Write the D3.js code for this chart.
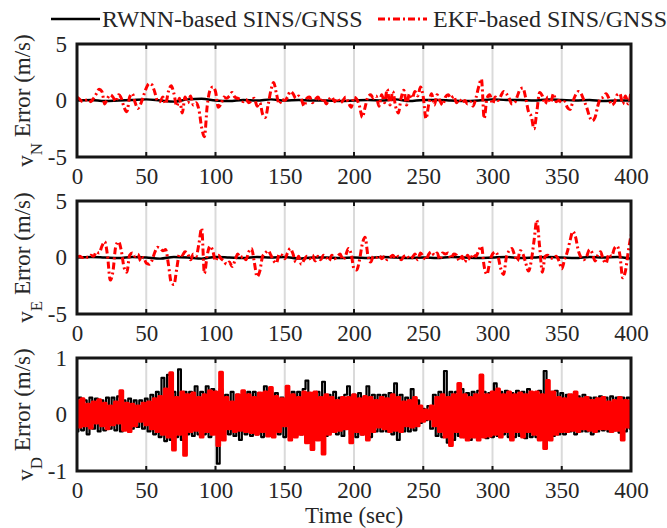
<!DOCTYPE html>
<html>
<head>
<meta charset="utf-8">
<script src="https://cdn.jsdelivr.net/npm/d3@7"></script>
<style>
  html, body { margin: 0; padding: 0; background: #fff; }
  svg { display: block; }
</style>
</head>
<body>
<svg id="chart" width="667" height="528"></svg>
<script>
"use strict";

var xTicks = [0, 50, 100, 150, 200, 250, 300, 350, 400];
var xTickLabels = ["0", "50", "100", "150", "200", "250", "300", "350", "400"];
var yTicksVel = [-5, 0, 5];
var yTickLabelsVel = ["-5", "0", "5"];
var yTicksDown = [-1, 0, 1];
var yTickLabelsDown = ["-1", "0", "1"];
var seriesNames = ["RWNN-based SINS/GNSS", "EKF-based SINS/GNSS"];
var xTitle = "Time (sec)";

// north velocity error, samples spread evenly over 0..400 s
var vnRwnn = [0.0, 0.05, -0.05, 0.0, 0.05, 0.1, 0.0, -0.1, 0.1, 0.15,
  0.0, -0.05, 0.05, 0.0, 0.1, 0.0, 0.05, 0.0, 0.0, -0.05,
  0.0, 0.05, 0.0, 0.1, -0.05, 0.05, 0.05, 0.0, -0.05, 0.0,
  0.1, 0.05, 0.05, 0.0, 0.1, 0.05, 0.0, 0.05, -0.05, 0.0, 0.0];
var vnEkf = [0.3, 0.1, -0.1, 0.0, 0.1, -0.1, 0.2, 0.6, 1.0, 0.8,
  -0.3, 0.2, 0.5, 0.3, -0.1, 0.5, 0.2, -0.6, -1.0, 0.3,
  0.6, -0.2, -0.7, -0.3, 0.4, 1.1, 1.5, 1.4, 0.8, 0.0,
  -0.1, 0.3, -0.3, 0.8, 1.3, 0.6, -0.5, 0.2, -1.1, 0.3,
  -0.2, 0.4, -0.4, -0.2, -0.8, -2.4, -3.2, -0.5, 0.9, 1.2,
  0.8, -0.6, -0.3, 0.3, 0.2, 0.4, 0.7, 0.3, 0.2, 0.1,
  -0.1, 0.1, -0.2, 0.0, 0.2, -0.5, -0.2, -1.2, -1.5, -0.4,
  0.9, 1.6, 0.6, -0.3, 0.1, 0.0, 0.3, 0.8, 0.6, 0.2,
  0.4, 0.1, -0.5, 0.2, 0.3, -0.2, 0.1, 0.3, -0.1, 0.2,
  -0.3, 0.1, 0.3, -0.1, 0.2, -0.2, 0.0, 0.3, -0.2, -0.6,
  0.3, 0.1, -0.5, -1.5, -0.6, 0.3, 0.5, 0.2, 0.4, -0.5,
  0.5, -0.2, 1.0, -0.4, 0.8, -0.5, -1.1, 0.2, 0.9, -0.4,
  0.6, 0.2, 0.8, 0.4, 1.2, 0.3, -1.6, -0.3, 0.6, -0.4,
  0.5, 0.0, -0.4, 0.3, 0.5, 0.2, 0.4, -0.2, 0.1, -0.2,
  0.0, -0.3, -0.1, -0.5, 0.2, 1.2, 1.9, -1.6, 0.2, 0.5,
  -0.3, 0.3, 0.0, 0.4, 0.8, 0.6, 0.2, -0.3, -0.2, 0.4,
  1.0, 1.1, 0.2, -1.0, -1.4, -2.5, -1.0, 0.7, 0.4, -0.3,
  0.3, -0.2, 0.6, -0.1, 0.0, -0.2, -0.1, -0.6, -0.8, -0.1,
  0.5, 0.8, 0.6, 0.0, -0.6, -1.4, -1.8, -1.5, -0.5, 0.2,
  0.3, 0.6, 0.2, -0.4, -0.2, 0.5, 0.6, -0.3, 0.4, -0.3,
  0.8];

// east velocity error
var veRwnn = [0.0, 0.05, 0.0, -0.05, 0.05, 0.0, -0.1, 0.05, 0.0, -0.1,
  0.05, 0.0, -0.05, 0.05, 0.0, 0.05, -0.1, 0.0, 0.0, -0.05,
  0.0, -0.05, 0.05, 0.0, -0.05, 0.0, -0.05, 0.05, 0.0, -0.05,
  0.0, 0.05, -0.05, 0.0, 0.05, 0.0, -0.05, 0.05, 0.0, 0.05, -0.1];
var veEkf = [0.0, 0.1, 0.0, 0.1, 0.0, 0.2, 0.1, 0.5, 0.4, 1.0,
  1.4, 0.2, -2.0, -1.2, 1.0, 1.4, 0.6, -0.9, -1.3, 0.2,
  0.4, 0.1, 0.3, -0.3, 0.0, -0.5, -0.6, -0.3, 0.4, 0.9,
  0.8, 0.6, 0.7, -0.6, -2.2, -2.4, -1.0, 0.3, 0.2, 0.5,
  0.3, -0.2, 0.3, 0.1, 1.2, 2.6, -1.4, 0.2, 1.0, 0.6,
  -0.3, 0.2, -0.1, -0.3, -0.6, -0.4, -0.8, -0.3, 0.3, 0.0,
  0.1, -0.2, 0.5, 0.8, -0.4, -1.7, -1.2, 0.1, 0.4, 0.6,
  0.2, -0.3, -0.5, 0.3, 0.2, -0.1, 0.4, 0.8, 0.3, -0.4,
  0.1, -0.6, -0.2, 0.1, -0.1, 0.2, -0.3, 0.1, -0.2, 0.2,
  0.0, -0.3, 0.2, -0.1, 0.1, 0.3, -0.2, 0.2, 0.8, 0.3,
  -1.0, -1.1, -0.2, 1.2, 1.8, 0.2, -0.4, 0.1, 0.0, 0.2,
  -0.1, 0.1, -0.2, 0.0, 0.2, -0.1, 0.1, -0.2, 0.1, 0.2,
  -0.1, 0.0, 0.3, -0.2, 0.4, 0.1, -0.2, 0.3, 0.5, 0.2,
  0.4, -0.2, 0.4, 0.3, 0.4, -0.1, 0.3, 0.2, -0.3, 0.1,
  -0.4, 0.2, -0.2, 0.3, 0.1, 0.6, 1.0, -0.8, -1.5, -0.4,
  0.3, 0.5, 0.1, -1.0, -1.5, 0.0, 0.6, 0.8, 0.2, -0.3,
  0.6, 0.3, -0.5, -1.2, -0.3, 1.5, 3.3, 1.0, -1.3, 0.1,
  0.2, 0.0, -0.1, 0.1, -0.3, -1.0, -0.2, 0.5, 1.5, 2.3,
  1.8, 0.6, 0.0, -0.2, 0.1, 0.7, 0.4, -0.3, 0.2, 0.5,
  -0.2, -0.5, 0.3, 0.1, 0.8, 1.0, 0.2, -1.8, -1.2, 0.5,
  2.0];

// down velocity error
var vdRwnn = [-0.3, 0.3, -0.28, 0.25, -0.35, 0.3, -0.25, 0.28, -0.3, 0.25,
  -0.28, 0.3, -0.25, 0.3, -0.28, 0.32, -0.3, 0.25, -0.25, 0.28,
  -0.25, 0.25, -0.22, 0.25, -0.25, 0.28, -0.3, 0.35, -0.35, 0.4,
  -0.4, 0.65, -0.47, 0.7, -0.45, 0.4, -0.4, 0.8, -0.45, 0.4,
  -0.35, 0.4, -0.38, 0.5, -0.35, 0.4, -0.35, 0.5, -0.4, 0.45,
  0.4, -0.87, 0.45, -0.35, 0.35, -0.35, 0.4, -0.38, 0.35, -0.45,
  0.35, -0.35, 0.4, -0.38, 0.4, -0.35, 0.38, -0.4, 0.5, -0.38,
  0.4, -0.35, 0.38, -0.35, 0.3, -0.4, 0.38, -0.4, 0.4, -0.38,
  0.4, -0.35, 0.45, 0.6, -0.4, 0.38, -0.4, 0.4, -0.35, 0.58,
  -0.38, 0.35, -0.3, 0.4, -0.35, 0.3, -0.38, 0.35, 0.5, -0.35,
  0.35, -0.4, 0.38, -0.35, 0.3, 0.5, -0.4, 0.35, -0.3, 0.35,
  -0.3, 0.35, -0.3, 0.38, -0.35, 0.55, -0.45, 0.35, -0.3, 0.3,
  -0.3, 0.45, -0.28, 0.25, -0.15, 0.1, -0.1, 0.15, -0.25, 0.35,
  -0.38, 0.4, -0.4, 0.77, -0.5, 0.4, -0.45, 0.4, -0.38, 0.45,
  -0.4, 0.38, -0.45, 0.4, -0.4, 0.42, -0.35, 0.4, -0.42, 0.38,
  -0.4, 0.55, -0.38, 0.4, -0.35, 0.42, -0.4, 0.38, -0.4, 0.42,
  -0.38, 0.4, -0.42, 0.45, -0.4, 0.38, -0.4, 0.42, -0.45, 0.77,
  -0.45, 0.4, -0.38, 0.42, -0.35, 0.38, -0.35, 0.35, -0.3, 0.35,
  -0.35, 0.32, -0.3, 0.35, -0.3, 0.3, -0.35, 0.3, -0.3, 0.32,
  -0.28, 0.3, -0.3, 0.32, -0.28, 0.3, -0.32, 0.3, -0.3, 0.3,
  -0.25];
var vdEkf = [0.25, -0.22, 0.28, -0.2, 0.18, -0.24, 0.22, -0.15, 0.26, -0.2,
  0.2, -0.25, 0.15, -0.18, 0.22, -0.15, 0.42, -0.28, 0.2, -0.3, 0.18,
  -0.2, 0.15, -0.12, 0.2, -0.18, 0.22, -0.25, 0.28, -0.3, 0.32,
  -0.35, 0.45, -0.4, 0.74, -0.63, 0.3, -0.35, 0.4, -0.72, 0.35,
  -0.3, 0.38, -0.28, 0.3, -0.4, 0.35, -0.3, 0.42, -0.35, 0.4,
  -0.55, 0.75, -0.45, 0.3, -0.25, 0.22, -0.3, 0.35, -0.28, 0.42,
  -0.3, 0.35, -0.32, 0.3, -0.35, 0.38, -0.3, 0.4, -0.38, 0.48,
  -0.4, 0.32, -0.3, 0.28, -0.2, 0.5, -0.45, 0.35, -0.4, 0.3,
  -0.35, 0.4, -0.5, 0.38, -0.62, 0.4, -0.45, 0.3, -0.7, 0.35,
  -0.35, 0.3, -0.3, 0.25, -0.28, 0.3, -0.25, 0.3, -0.5, 0.35,
  -0.3, 0.28, -0.35, 0.32, -0.45, 0.3, -0.3, 0.25, -0.22, 0.3,
  -0.25, 0.28, -0.3, 0.35, -0.28, 0.3, -0.3, 0.22, -0.2, 0.25,
  -0.22, 0.3, -0.2, 0.15, -0.12, 0.08, -0.08, 0.15, -0.2, 0.3,
  -0.3, 0.35, -0.4, 0.3, -0.55, 0.35, -0.3, 0.55, -0.4, 0.35,
  -0.45, 0.3, -0.4, 0.35, -0.45, 0.7, -0.4, 0.35, -0.38,
  0.4, -0.35, 0.45, -0.4, 0.35, -0.3, 0.4, -0.45, 0.35, -0.3,
  0.38, -0.4, 0.35, -0.3, 0.4, -0.35, 0.4, -0.45, 0.35, -0.6,
  0.6, -0.45, 0.4, -0.35, 0.3, -0.3, 0.28, -0.3, 0.35, -0.28,
  0.4, -0.3, 0.28, -0.25, 0.3, -0.28, 0.25, -0.3, 0.28, -0.25,
  0.3, -0.25, 0.22, -0.3, 0.25, -0.28, 0.3, -0.45, 0.25, -0.22,
  0.25];

var FONT = "'Liberation Serif', 'Times New Roman', serif";
var svg = d3.select("#chart");
var plotLeft = 77, plotRight = 631, plotH = 113;

var x = d3.scaleLinear().domain([0, 400]).range([plotLeft, plotRight]);

var panels = [
  { top: 44, rwnn: vnRwnn, ekf: vnEkf, ticks: yTicksVel, labels: yTickLabelsVel, sub: "N", smooth: true },
  { top: 201, rwnn: veRwnn, ekf: veEkf, ticks: yTicksVel, labels: yTickLabelsVel, sub: "E", smooth: true },
  { top: 358, rwnn: vdRwnn, ekf: vdEkf, ticks: yTicksDown, labels: yTickLabelsDown, sub: "D", smooth: false }
];

panels.forEach(function(p, k) {
  var y = d3.scaleLinear()
    .domain([p.ticks[0], p.ticks[p.ticks.length - 1]])
    .range([p.top + plotH, p.top]);

  // noisy down channel is drawn stepwise so it reads as a filled band
  var line = d3.line()
    .x(function(d, i, arr) { return x(i * 400 / (arr.length - 1)); })
    .y(function(d) { return y(d); })
    .curve(p.smooth ? d3.curveMonotoneX : d3.curveStep);

  svg.append("clipPath").attr("id", "clip" + k)
    .append("rect")
    .attr("x", plotLeft).attr("y", p.top)
    .attr("width", plotRight - plotLeft).attr("height", plotH);

  var g = svg.append("g");

  // vertical grid
  g.selectAll(".grid")
    .data(xTicks.slice(1, -1))
    .enter().append("line")
    .attr("x1", function(d) { return x(d); })
    .attr("x2", function(d) { return x(d); })
    .attr("y1", p.top).attr("y2", p.top + plotH)
    .attr("stroke", "#dadada")
    .attr("stroke-width", 2);

  var lines = g.append("g").attr("clip-path", "url(#clip" + k + ")");
  lines.append("path")
    .datum(p.rwnn)
    .attr("fill", "none")
    .attr("stroke", "#000")
    .attr("stroke-width", p.smooth ? 2.4 : 2.2)
    .attr("stroke-linejoin", "round")
    .attr("d", line);
  lines.append("path")
    .datum(p.ekf)
    .attr("fill", "none")
    .attr("stroke", "#ff0000")
    .attr("stroke-width", 3)
    .attr("stroke-dasharray", p.smooth ? "7,3,2,3" : null)
    .attr("stroke-linejoin", "round")
    .attr("d", line);

  // box
  g.append("rect")
    .attr("x", plotLeft).attr("y", p.top)
    .attr("width", plotRight - plotLeft).attr("height", plotH)
    .attr("fill", "none")
    .attr("stroke", "#161616")
    .attr("stroke-width", 3);

  // inward tick marks top and bottom
  [p.top, p.top + plotH].forEach(function(yy, j) {
    g.selectAll(".tk" + j)
      .data(xTicks.slice(1, -1))
      .enter().append("line")
      .attr("x1", function(d) { return x(d); })
      .attr("x2", function(d) { return x(d); })
      .attr("y1", yy)
      .attr("y2", j === 0 ? yy + 5 : yy - 5)
      .attr("stroke", "#161616")
      .attr("stroke-width", 2);
  });

  var xAxis = g.append("g")
    .attr("transform", "translate(0," + (p.top + plotH) + ")")
    .call(d3.axisBottom(x).tickValues(xTicks).tickSize(0).tickPadding(11)
      .tickFormat(function(d, i) { return xTickLabels[i]; }));
  xAxis.select(".domain").remove();
  xAxis.selectAll("text")
    .attr("fill", "#262626")
    .style("font-family", FONT)
    .style("font-size", "23px");

  var yAxis = g.append("g")
    .attr("transform", "translate(" + plotLeft + ",0)")
    .call(d3.axisLeft(y).tickValues(p.ticks).tickSize(0).tickPadding(10)
      .tickFormat(function(d, i) { return p.labels[i]; }));
  yAxis.select(".domain").remove();
  yAxis.selectAll("text")
    .attr("fill", "#262626")
    .style("font-family", FONT)
    .style("font-size", "23px");

  var lab = svg.append("text")
    .attr("transform", "translate(33," + (p.top + plotH / 2) + ") rotate(-90)")
    .attr("text-anchor", "middle")
    .attr("fill", "#262626")
    .style("font-family", FONT)
    .style("font-size", "23px");
  lab.append("tspan").text("v");
  lab.append("tspan").attr("dy", "0.5em").style("font-size", "17px").text(p.sub);
  lab.append("tspan").attr("dy", "-0.5em").text(" Error (m/s)");
});

svg.append("text")
  .attr("x", (plotLeft + plotRight) / 2)
  .attr("y", 523)
  .attr("text-anchor", "middle")
  .attr("fill", "#262626")
  .style("font-family", FONT)
  .style("font-size", "23px")
  .text(xTitle);

// legend
var legend = svg.append("g");
var legendItems = [
  { x0: 51, tx: 102, color: "#000", dash: null, w: 2.5 },
  { x0: 378, tx: 433, color: "#ff0000", dash: "7,3,2,3", w: 3 }
];
legendItems.forEach(function(d, i) {
  legend.append("line")
    .attr("x1", d.x0).attr("x2", d.x0 + 49)
    .attr("y1", 19).attr("y2", 19)
    .attr("stroke", d.color)
    .attr("stroke-width", d.w)
    .attr("stroke-dasharray", d.dash);
  legend.append("text")
    .attr("x", d.tx).attr("y", 27)
    .attr("fill", "#262626")
    .style("font-family", FONT)
    .style("font-size", "24px")
    .text(seriesNames[i]);
});
</script>
</body>
</html>
